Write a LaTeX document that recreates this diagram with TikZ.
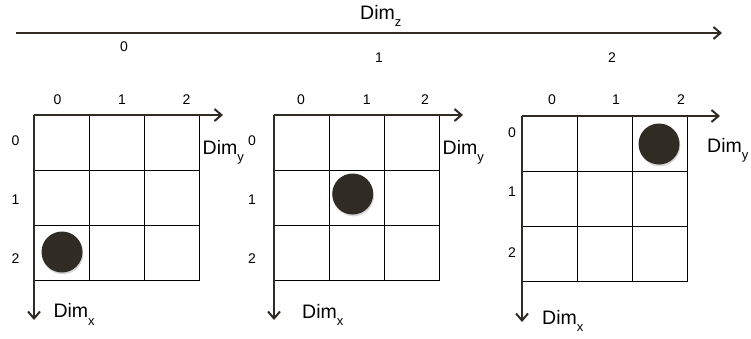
\documentclass[tikz,border=0pt]{standalone}
\usepackage{fontspec}
\setmainfont{Liberation Sans}
\usetikzlibrary{arrows.meta}
\definecolor{ink}{HTML}{302C24}
\tikzset{
  axis/.style={draw=ink, line width=2.2pt, -{Straight Barb[length=7pt,width=12pt,line width=2pt]}},
  cell/.style={draw=black, line width=1pt, minimum width=55pt, minimum height=55pt, inner sep=0pt, anchor=north west},
  ball/.style={circle, fill=ink, minimum size=41pt, inner sep=0pt},
  ballshadow/.style={circle, fill=black!35, opacity=0.45, minimum size=41pt, inner sep=0pt},
  num/.style={font=\fontsize{14}{14}\selectfont, inner sep=0pt},
  dimlbl/.style={font=\fontsize{19.5}{19.5}\selectfont, inner sep=0pt, anchor=base west},
}
\newcommand{\Dimsub}[1]{Dim\raisebox{-7.5pt}{\fontsize{13}{13}\selectfont #1}}
\begin{document}
\begin{tikzpicture}[x=1pt,y=-1pt]
\useasboundingbox (0,0) rectangle (751,338);
% top axis
\coordinate (zs) at (16,33);
\coordinate (ze) at (722,33);
\draw[axis] (zs) -- (ze);
\node[dimlbl] (dimz) at (360,19) {\Dimsub{z}};
\node[num] (z0) at (124,47) {0};
\node[num] (z1) at (379,58) {1};
\node[num] (z2) at (612,58) {2};

\foreach \g/\ox/\oy/\bx/\by/\ye/\xe/\dyx/\dyy/\dxx/\dxy/\cA/\cB/\cC/\rx/\rA/\rB/\rC in {
  1/34/115/62/252/223/320/202.5/154/53.3/317.7/57.5/122/186.5/15.5/140.5/200/258.5,
  2/274/115/352.7/194/463/320/442.5/154/302/318/301/366.7/425/252/141/200/259,
  3/522/116/659/144/720/322/707/152/542/324/552/616/681/512/133/192/253}
{
  \foreach \r in {0,1,2}{
    \foreach \c in {0,1,2}{
      \node[cell] (g\g c\r\c) at (\ox+\c*55,\oy+\r*55) {};
    }
  }
  \coordinate (g\g o) at (\ox,\oy);
  \coordinate (g\g ye) at (\ye,\oy);
  \coordinate (g\g xe) at (\ox,\xe);
  \draw[axis] (g\g o) -- (g\g ye);
  \draw[axis] (g\g o) -- (g\g xe);
  \node[ballshadow] (g\g sh) at (\bx+0.8,\by+1.8) {};
  \node[ball] (g\g ball) at (\bx,\by) {};
  \node[dimlbl] (g\g dy) at (\dyx,\dyy) {\Dimsub{y}};
  \node[dimlbl] (g\g dx) at (\dxx,\dxy) {\Dimsub{x}};
  \node[num] (g\g col0) at (\cA,100) {0};
  \node[num] (g\g col1) at (\cB,100) {1};
  \node[num] (g\g col2) at (\cC,100) {2};
  \node[num] (g\g row0) at (\rx,\rA) {0};
  \node[num] (g\g row1) at (\rx,\rB) {1};
  \node[num] (g\g row2) at (\rx,\rC) {2};
}
\end{tikzpicture}
\end{document}
